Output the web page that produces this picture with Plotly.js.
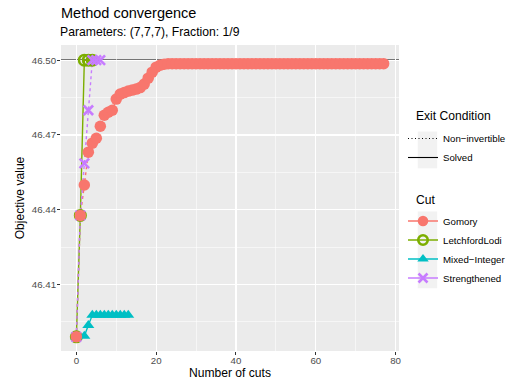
<!DOCTYPE html>
<html>
<head>
<meta charset="utf-8">
<script src="https://cdn.plot.ly/plotly-3.0.1.min.js"></script>
<style>html,body{margin:0;padding:0;background:#fff;}#chart{width:513px;height:383px;}</style>
</head>
<body>
<div id="chart"></div>
<script>
// ---- data ----
const cutNames = ["Gomory", "LetchfordLodi", "Mixed\u2212Integer", "Strengthened"];
const exitNames = ["Non\u2212invertible", "Solved"];
const optimalValue = 46.50;

const gomoryX = [0,1,2,3,4,5,6,7,8,9,10,11,12,13,14,15,16,17,18,19,20,21,22,23,24,25,26,27,28,29,30,31,32,33,34,35,36,37,38,39,40,41,42,43,44,45,46,47,48,49,50,51,52,53,54,55,56,57,58,59,60,61,62,63,64,65,66,67,68,69,70,71,72,73,74,75,76,77];
const gomoryY = [46.3890,46.4377,46.4499,46.4631,46.4667,46.4687,46.4735,46.4779,46.4791,46.4799,46.4844,46.4864,46.4870,46.4876,46.4880,46.4884,46.4890,46.4904,46.4928,46.4952,46.4972,46.4980,46.4984,
  46.4986,46.4986,46.4986,46.4986,46.4986,46.4986,46.4986,46.4986,46.4986,46.4986,46.4986,46.4986,46.4986,46.4986,46.4986,46.4986,46.4986,46.4986,46.4986,46.4986,46.4986,46.4986,46.4986,46.4986,46.4986,46.4986,46.4986,46.4986,46.4986,46.4986,46.4986,46.4986,46.4986,46.4986,46.4986,46.4986,46.4986,46.4986,46.4986,46.4986,46.4986,46.4986,46.4986,46.4986,46.4986,46.4986,46.4986,46.4986,46.4986,46.4986,46.4986,46.4986,46.4986,46.4986,46.4986];

const lodiX = [0, 1, 2, 3, 4];
const lodiY = [46.3890, 46.4377, 46.5000, 46.5000, 46.5000];

const mixedX = [0, 2, 3, 4, 5, 6, 7, 8, 9, 10, 11, 12, 13];
const mixedY = [46.3890, 46.3893, 46.3936, 46.3977, 46.3977, 46.3977, 46.3977, 46.3977, 46.3977, 46.3977, 46.3977, 46.3977, 46.3977];

const strX = [0, 1, 2, 3, 4, 5, 6];
const strY = [46.3890, 46.4377, 46.4586, 46.4799, 46.5000, 46.5000, 46.5000];

const yTicks = [46.41, 46.44, 46.47, 46.50];
const yTickText = ["46.41", "46.44", "46.47", "46.50"];
const yMinor = [46.395, 46.425, 46.455, 46.485];

// ---- styling ----
const colRed = "#F8766D", colGreen = "#7CAE00", colCyan = "#00BFC4", colPurple = "#C77CFF";
const FONT = "Liberation Sans, Arial, Helvetica, sans-serif";
const LW = 1.4;
const W = 513, H = 383;
const PL = 61, PR = 398.6, PT = 45, PB = 351;
const px2x = p => (p - PL) / (PR - PL);
const px2y = p => (PB - p) / (PB - PT);

const traces = [];
// lines layer
traces.push({x: gomoryX, y: gomoryY, mode: "lines", line: {color: colRed, width: LW, dash: "dot"}, showlegend: false, hoverinfo: "skip"});
traces.push({x: lodiX, y: lodiY, mode: "lines", line: {color: colGreen, width: LW}, showlegend: false, hoverinfo: "skip"});
traces.push({x: mixedX, y: mixedY, mode: "lines", line: {color: colCyan, width: LW}, showlegend: false, hoverinfo: "skip"});
traces.push({x: strX, y: strY, mode: "lines", line: {color: colPurple, width: LW, dash: "dot"}, showlegend: false, hoverinfo: "skip"});
// points layer
traces.push({x: lodiX, y: lodiY, mode: "markers", marker: {symbol: "circle-open", size: 10.5, color: colGreen, line: {width: 2.6, color: colGreen}}, showlegend: false});
traces.push({x: mixedX, y: mixedY, mode: "markers", marker: {symbol: "triangle-up", size: 10.5, color: colCyan, line: {width: 0}}, showlegend: false});
traces.push({x: strX, y: strY, mode: "markers", marker: {symbol: "x-thin-open", size: 9.5, color: colPurple, line: {width: 2.6, color: colPurple}}, showlegend: false});
traces.push({x: gomoryX, y: gomoryY, mode: "markers", marker: {symbol: "circle", size: 11.5, color: colRed, line: {width: 0}}, showlegend: false});

// legend entries: exit condition
traces.push({x: [null], y: [null], mode: "lines", name: exitNames[0], legend: "legend", legendgroup: "e1", line: {color: "#000", width: 1.1, dash: "1px,2.5px"}});
traces.push({x: [null], y: [null], mode: "lines", name: exitNames[1], legend: "legend", legendgroup: "e2", line: {color: "#000", width: 1.1}});
// legend entries: cut
traces.push({x: [null], y: [null], mode: "lines+markers", name: cutNames[0], legend: "legend2", legendgroup: "c1", line: {color: colRed, width: LW}, marker: {symbol: "circle", size: 10.5, color: colRed}});
traces.push({x: [null], y: [null], mode: "lines+markers", name: cutNames[1], legend: "legend2", legendgroup: "c2", line: {color: colGreen, width: LW}, marker: {symbol: "circle-open", size: 9.5, color: colGreen, line: {width: 2.6, color: colGreen}}});
traces.push({x: [null], y: [null], mode: "lines+markers", name: cutNames[2], legend: "legend2", legendgroup: "c3", line: {color: colCyan, width: LW}, marker: {symbol: "triangle-up", size: 10, color: colCyan}});
traces.push({x: [null], y: [null], mode: "lines+markers", name: cutNames[3], legend: "legend2", legendgroup: "c4", line: {color: colPurple, width: LW}, marker: {symbol: "x-thin-open", size: 9, color: colPurple, line: {width: 2.6, color: colPurple}}});

const legendCommon = {
  bgcolor: "rgba(0,0,0,0)", borderwidth: 0, font: {family: FONT, size: 9.7, color: "#000"},
  xanchor: "left", yanchor: "top", tracegroupgap: 0, itemwidth: 30,
  xref: "container", yref: "container", x: 403 / W
};

const layout = {
  width: W, height: H,
  margin: {l: PL, r: W - PR, t: PT, b: H - PB},
  paper_bgcolor: "#FFFFFF", plot_bgcolor: "#EBEBEB",
  font: {family: FONT, color: "#000"},
  title: {text: "Method convergence", font: {family: FONT, size: 14.5, color: "#000"},
          x: PL / W, xanchor: "left", xref: "container", y: 1 - 13 / H, yanchor: "middle", yref: "container"},
  annotations: [
    {text: "Parameters: (7,7,7), Fraction: 1/9", xref: "paper", yref: "paper", x: 0, xshift: -3, y: px2y(32.5),
     xanchor: "left", yanchor: "middle", showarrow: false, font: {family: FONT, size: 12.2, color: "#000"}},
    {text: "Exit Condition", xref: "paper", yref: "paper", x: px2x(417), xshift: -3, y: px2y(116),
     xanchor: "left", yanchor: "middle", showarrow: false, font: {family: FONT, size: 12.1, color: "#000"}},
    {text: "Cut", xref: "paper", yref: "paper", x: px2x(417), xshift: -3, y: px2y(199.5),
     xanchor: "left", yanchor: "middle", showarrow: false, font: {family: FONT, size: 12.1, color: "#000"}}
  ],
  xaxis: {
    range: [-3.85, 80.85], tick0: 0, dtick: 20, zeroline: false,
    showgrid: true, gridcolor: "#FFFFFF", gridwidth: 1.1,
    minor: {tick0: 0, dtick: 10, showgrid: true, gridcolor: "#FFFFFF", gridwidth: 0.55},
    ticks: "outside", ticklen: 3, tickwidth: 1, tickcolor: "#333333", ticklabelstandoff: -3,
    tickfont: {family: FONT, size: 9.7, color: "#4D4D4D"},
    title: {text: "Number of cuts", font: {family: FONT, size: 12.1, color: "#000"}, standoff: 0},
    showline: false, fixedrange: true, automargin: false
  },
  yaxis: {
    range: [46.3833, 46.5061], tickvals: yTicks, ticktext: yTickText, zeroline: false,
    showgrid: true, gridcolor: "#FFFFFF", gridwidth: 1.1,
    minor: {tickvals: yMinor, showgrid: true, gridcolor: "#FFFFFF", gridwidth: 0.55},
    ticks: "outside", ticklen: 3, tickwidth: 1, tickcolor: "#333333", ticklabelstandoff: -1,
    tickfont: {family: FONT, size: 9.7, color: "#4D4D4D"},
    title: {text: "Objective value", font: {family: FONT, size: 12.1, color: "#000"}, standoff: 4},
    showline: false, fixedrange: true, automargin: false
  },
  shapes: [
    {type: "line", xref: "paper", yref: "y", x0: 0, x1: 1, y0: optimalValue, y1: optimalValue,
     line: {color: "#000000", width: 1.2}, layer: "below"},
    {type: "rect", xref: "paper", yref: "paper", x0: px2x(417.3), x1: px2x(436.7), y0: px2y(168.3), y1: px2y(131.5),
     fillcolor: "#F2F2F2", line: {width: 0}, layer: "below"},
    {type: "rect", xref: "paper", yref: "paper", x0: px2x(417.3), x1: px2x(436.7), y0: px2y(288.3), y1: px2y(211.5),
     fillcolor: "#F2F2F2", line: {width: 0}, layer: "below"}
  ],
  legend: Object.assign({}, legendCommon, {y: 1 - 124 / H}),
  legend2: Object.assign({}, legendCommon, {y: 1 - 206.5 / H}),
  showlegend: true
};

Plotly.newPlot("chart", traces, layout, {displayModeBar: false, staticPlot: true});
</script>
</body>
</html>
